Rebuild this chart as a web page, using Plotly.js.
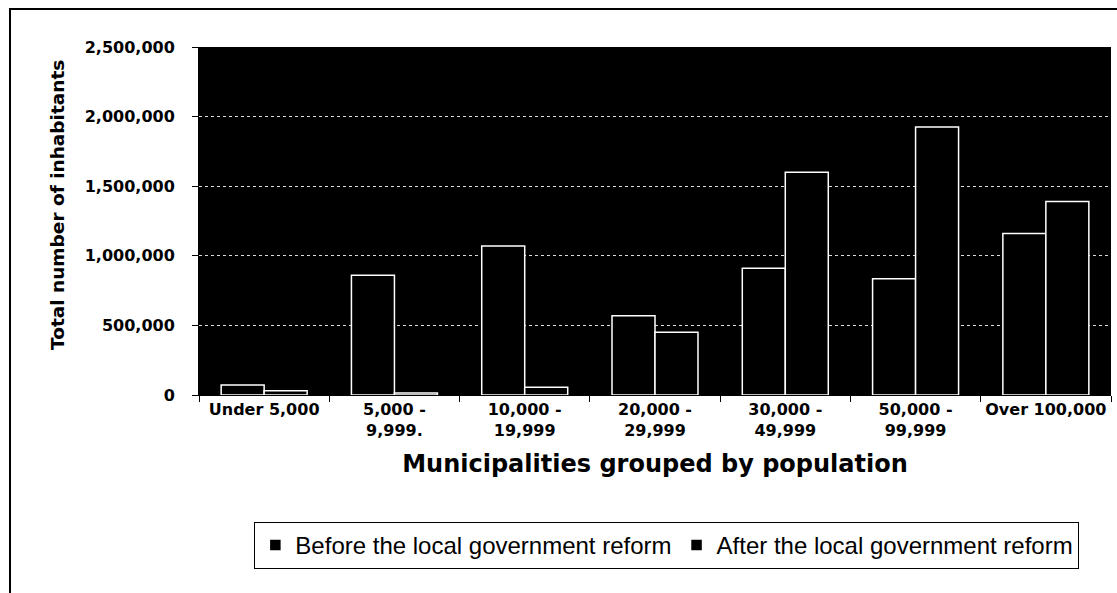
<!DOCTYPE html>
<html>
<head>
<meta charset="utf-8">
<script src="https://cdn.plot.ly/plotly-3.0.1.min.js"></script>
<style>
  html, body { margin: 0; padding: 0; background: #fff; }
  #chart { width: 1117px; height: 593px; position: relative; }
  #frame { position: absolute; left: 9px; top: 8px; width: 1200px; height: 700px;
           border-left: 2px solid #000; border-top: 2px solid #000; pointer-events: none; }
</style>
</head>
<body>
<div id="chart"></div>
<div id="frame"></div>
<script>
const categories = ["Under 5,000", "5,000 -<br>9,999.", "10,000 -<br>19,999", "20,000 -<br>29,999",
                    "30,000 -<br>49,999", "50,000 -<br>99,999", "Over 100,000"];
const beforeValues = [72000, 860000, 1070000, 570000, 910000, 835000, 1160000];
const afterValues = [30000, 15000, 55000, 450000, 1600000, 1925000, 1390000];
const seriesNames = ["Before the local government reform", "After the local government reform"];
const yTicks = [0, 500000, 1000000, 1500000, 2000000, 2500000];
const yTitle = "Total number of inhabitants";
const xTitle = "Municipalities grouped by population";

const BOLD = "DejaVu Sans, sans-serif";
const PLAIN = "Liberation Sans, Arial, sans-serif";

const traces = [
  { type: "bar", name: seriesNames[0], x: categories, y: beforeValues,
    marker: { color: "#000", line: { color: "#fff", width: 1.5 } } },
  { type: "bar", name: seriesNames[1], x: categories, y: afterValues,
    marker: { color: "#000", line: { color: "#fff", width: 1.5 } } }
];

const layout = {
  width: 1117, height: 593,
  paper_bgcolor: "#fff", plot_bgcolor: "#000",
  margin: { l: 199, r: 6, t: 47, b: 198 },
  barmode: "group", bargap: 0.34, bargroupgap: 0,
  font: { family: PLAIN, color: "#000" },
  showlegend: true,
  legend: {
    orientation: "h", x: 0.513, xanchor: "center", y: -0.365, yanchor: "top",
    bordercolor: "#000", borderwidth: 1, bgcolor: "#fff",
    font: { family: PLAIN, size: 24, color: "#000" },
    itemwidth: 30, tracegroupgap: 0
  },
  xaxis: {
    type: "category", tickson: "boundaries", ticks: "outside", ticklen: 6, tickcolor: "#000",
    showline: true, linecolor: "#000", linewidth: 1,
    tickfont: { family: BOLD, size: 16, weight: "bold", color: "#000" },
    tickangle: 0,
    title: { text: xTitle, standoff: 16,
             font: { family: BOLD, size: 24, weight: "bold", color: "#000" } }
  },
  yaxis: {
    range: [0, 2500000], tickvals: yTicks, tickformat: ",",
    ticks: "outside", ticklen: 6, tickcolor: "#000",
    showline: true, linecolor: "#000", linewidth: 1,
    showgrid: true, gridcolor: "#ddd", griddash: "dot", gridwidth: 1,
    zeroline: false,
    tickfont: { family: BOLD, size: 16, weight: "bold", color: "#000" },
    ticklabelstandoff: 14
  },
  annotations: [{
    text: yTitle, xref: "paper", yref: "paper",
    x: -0.155, y: 0.545, xanchor: "center", yanchor: "middle",
    textangle: -90, showarrow: false,
    font: { family: BOLD, size: 18.5, weight: "bold", color: "#000" }
  }]
};

Plotly.newPlot("chart", traces, layout, { staticPlot: true });
</script>
</body>
</html>
